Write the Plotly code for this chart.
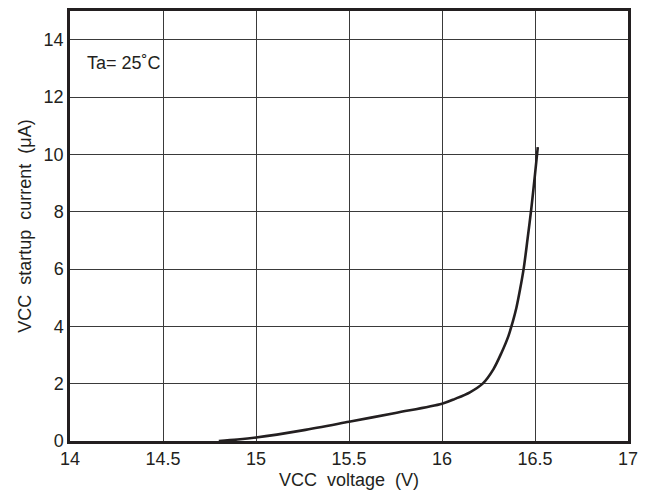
import plotly.graph_objects as go

vcc_voltage = [14.80, 14.90, 15.00, 15.25, 15.50, 15.75, 16.00, 16.07, 16.15, 16.22, 16.276, 16.32, 16.357, 16.38, 16.40, 16.42, 16.44, 16.46, 16.48, 16.50, 16.515]
startup_current = [0.00, 0.05, 0.12, 0.37, 0.67, 0.98, 1.30, 1.47, 1.70, 2.01, 2.50, 3.08, 3.66, 4.15, 4.65, 5.30, 6.05, 7.05, 8.10, 9.30, 10.25]

x_ticks = [14, 14.5, 15, 15.5, 16, 16.5, 17]
x_tick_labels = ["14", "14.5", "15", "15.5", "16", "16.5", "17"]
y_ticks = [0, 2, 4, 6, 8, 10, 12, 14]
y_tick_labels = ["0", "2", "4", "6", "8", "10", "12", "14"]

NB = "\u00a0"
x_title = "VCC" + NB * 2 + "voltage" + NB * 2 + "(V)"
y_title = "VCC" + NB * 2 + "startup" + NB * 2 + "current" + NB * 2 + "(μA)"

fig = go.Figure()
fig.add_trace(go.Scatter(
    x=vcc_voltage, y=startup_current, mode="lines",
    line=dict(color="#231f20", width=2.6, shape="spline", smoothing=0.9),
    showlegend=False, hoverinfo="skip"))

font_family = "Liberation Sans, Arial, sans-serif"

fig.update_layout(
    width=641, height=483,
    margin=dict(l=62, r=21, t=0, b=50),
    paper_bgcolor="white", plot_bgcolor="white",
    font=dict(family=font_family, size=18, color="#231f20"),
    xaxis=dict(
        range=[14, 17], tickvals=x_ticks, ticktext=x_tick_labels,
        showgrid=True, gridcolor="#3a3a3a", gridwidth=1,
        showline=True, linecolor="#231f20", linewidth=2.5, mirror=True,
        ticks="", zeroline=False, ticklabelstandoff=0,
        tickfont=dict(size=18),
        title=dict(text=x_title, font=dict(size=18), standoff=6),
    ),
    yaxis=dict(
        range=[0, 15], tickvals=y_ticks, ticktext=y_tick_labels,
        showgrid=True, gridcolor="#3a3a3a", gridwidth=1,
        showline=True, linecolor="#231f20", linewidth=2.5, mirror=True,
        ticks="", zeroline=False,
        tickfont=dict(size=18),
        title=dict(text=y_title, font=dict(size=18), standoff=8),
    ),
    annotations=[dict(
        x=14.08, y=13.2, xref="x", yref="y", text="Ta= 25˚C",
        showarrow=False, xanchor="left", yanchor="middle",
        font=dict(size=18, family=font_family, color="#231f20"))],
)

fig.write_html("out.html")
